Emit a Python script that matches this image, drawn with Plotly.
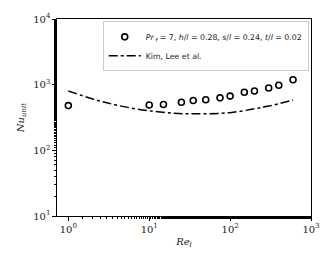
import plotly.graph_objects as go

re_sim = [1, 10, 15, 25, 35, 50, 75, 100, 150, 200, 300, 400, 600]
nu_sim = [480, 490, 500, 540, 575, 590, 630, 670, 765, 800, 890, 980, 1190]

re_kim = [1, 2, 3, 5, 10, 20, 30, 50, 100, 200, 300, 600]
nu_kim = [800, 606, 529, 459, 400, 367, 360, 361, 375, 429, 472, 583]

xticks = [1, 10, 100, 1000]
xticktext = ["10<sup>0</sup>", "10<sup>1</sup>", "10<sup>2</sup>", "10<sup>3</sup>"]
yticks = [10, 100, 1000, 10000]
yticktext = ["10<sup>1</sup>", "10<sup>2</sup>", "10<sup>3</sup>", "10<sup>4</sup>"]

serif = "DejaVu Serif"

fig = go.Figure()
fig.add_trace(go.Scatter(
    x=re_sim, y=nu_sim, mode="markers",
    marker=dict(symbol="circle-open", size=6, color="black", line=dict(width=1.6, color="black")),
    name="<i>Pr</i><sub> <i>f</i></sub> = 7, <i>h</i>/<i>l</i> = 0.28, <i>s</i>/<i>l</i> = 0.24, <i>t</i>/<i>l</i> = 0.02",
))
fig.add_trace(go.Scatter(
    x=re_kim, y=nu_kim, mode="lines",
    line=dict(color="black", width=1.5, dash="dashdot", shape="spline"),
    name="Kim, Lee et al.",
))

axis_common = dict(
    type="log", showgrid=False, zeroline=False,
    showline=True, linecolor="black", linewidth=1.2, mirror=True,
    ticks="outside", ticklen=3.5, tickwidth=0.8, tickcolor="black",
    tickfont=dict(family=serif, size=10, color="#222"),
    minor=dict(ticks="outside", ticklen=2, tickwidth=0.6, tickcolor="black", showgrid=False),
)

fig.update_layout(
    width=335, height=268,
    margin=dict(l=57, r=24, t=19, b=52),
    paper_bgcolor="white", plot_bgcolor="white",
    showlegend=True,
    legend=dict(
        x=0.18, y=0.988, xanchor="left", yanchor="top",
        bgcolor="white", bordercolor="#cccccc", borderwidth=1,
        font=dict(family="DejaVu Sans", size=7.8, color="#222"),
        tracegroupgap=0, itemwidth=32,
    ),
    xaxis=dict(axis_common, range=[-0.14, 3], tickvals=xticks, ticktext=xticktext,
               title=dict(text="<i>Re<sub>l</sub></i>", font=dict(family=serif, size=10, color="#222"), standoff=4)),
    yaxis=dict(axis_common, range=[1, 4], tickvals=yticks, ticktext=yticktext,
               title=dict(text="<i>Nu<sub>unit</sub></i>", font=dict(family=serif, size=10, color="#222"), standoff=6)),
)

fig.write_html("out.html", config={"displayModeBar": False},
               post_script="document.body.style.margin='0';document.body.style.overflow='hidden';")
